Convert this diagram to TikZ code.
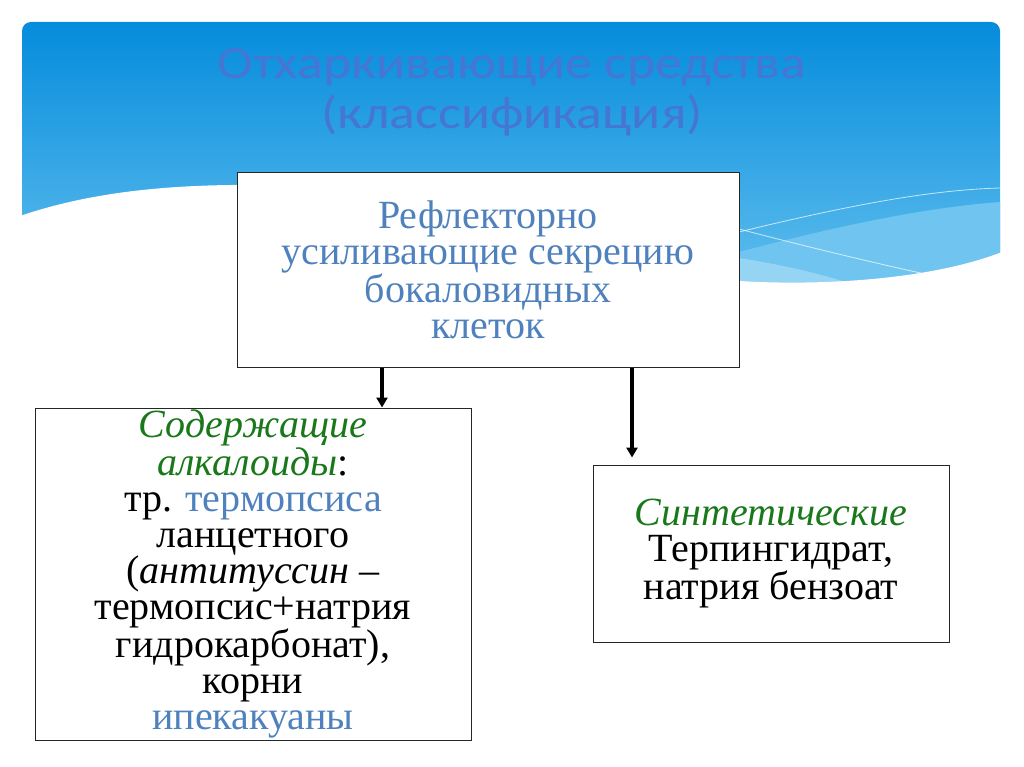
\documentclass[tikz,border=0pt]{standalone}
\usepackage{fontspec}
\setmainfont{Liberation Serif}
\newfontfamily\titlefont[FakeStretch=1.17]{Carlito}
\usetikzlibrary{arrows.meta}

\definecolor{skytop}{RGB}{5,140,220}
\definecolor{skybot}{RGB}{100,192,238}
\definecolor{band}{RGB}{112,196,240}
\definecolor{bandlt}{RGB}{150,212,244}
\definecolor{ttl}{RGB}{70,118,212}
\definecolor{blu}{RGB}{79,129,189}
\definecolor{grn}{RGB}{25,120,25}
\newcommand{\grp}[1]{\textcolor{grn}{\textit{#1}}}
\newcommand{\blp}[1]{\textcolor{blu}{#1}}

\tikzset{
  box/.style={draw=black!85, line width=1pt, fill=white, align=center, inner sep=0pt},
  txt/.style={font=\fontsize{40}{36}\selectfont},
  arr/.style={line width=3.5pt, -{Triangle[length=10pt,width=11pt]}},
  streak/.style={white, opacity=.7, line width=.8pt}
}

\begin{document}
\begin{tikzpicture}[x=1pt,y=-1pt]
\useasboundingbox (0,0) rectangle (1024,767);
% sky banner
\shade[top color=skytop, bottom color=skybot, rounded corners=9pt] (22,22) rectangle (1000,300);
\fill[band] (739,252) .. controls (830,228) and (920,208) .. (1000,202) -- (1000,300) -- (739,300) -- cycle;
\fill[bandlt] (739,258) .. controls (790,266) and (830,276) .. (870,290) -- (739,290) -- cycle;
\draw[streak] (739,232) .. controls (850,205) and (930,190) .. (1000,188);
\draw[streak] (739,229) .. controls (800,245) and (870,262) .. (925,274);
\fill[white] (20,216) .. controls (90,192) and (170,184) .. (260,185) -- (739,281)
  .. controls (820,286) and (930,280) .. (1002,252) -- (1002,310) -- (20,310) -- cycle;

\node[font=\titlefont\fontsize{46}{50}\selectfont, text=ttl, align=center] (title) at (512,92)
  {Отхаркивающие средства\\(классификация)};

\node[box, txt, text=blu, minimum width=502pt, minimum height=194pt] (top) at (488,270)
  {Рефлекторно\\усиливающие секрецию\\бокаловидных\\клеток};
\node[box, txt, minimum width=436pt, minimum height=332pt] (alk) at (253,574)
  {\grp{Содержащие}\\\grp{алкалоиды}:\\тр. \blp{термопсиса}\\ланцетного\\(\textit{антитуссин –}\\термопсис+натрия\\гидрокарбонат),\\корни\\\blp{ипекакуаны}};
\node[box, txt, minimum width=356pt, minimum height=177pt] (syn) at (771,553.5)
  {\grp{Синтетические}\\Терпингидрат,\\натрия бензоат};

\coordinate (a1) at (382,0);
\coordinate (a2) at (632,0);
\draw[arr] (a1 |- top.south) -- (a1 |- alk.north);
\draw[arr] (a2 |- top.south) -- ([yshift=7pt]a2 |- syn.north);
\end{tikzpicture}
\end{document}
